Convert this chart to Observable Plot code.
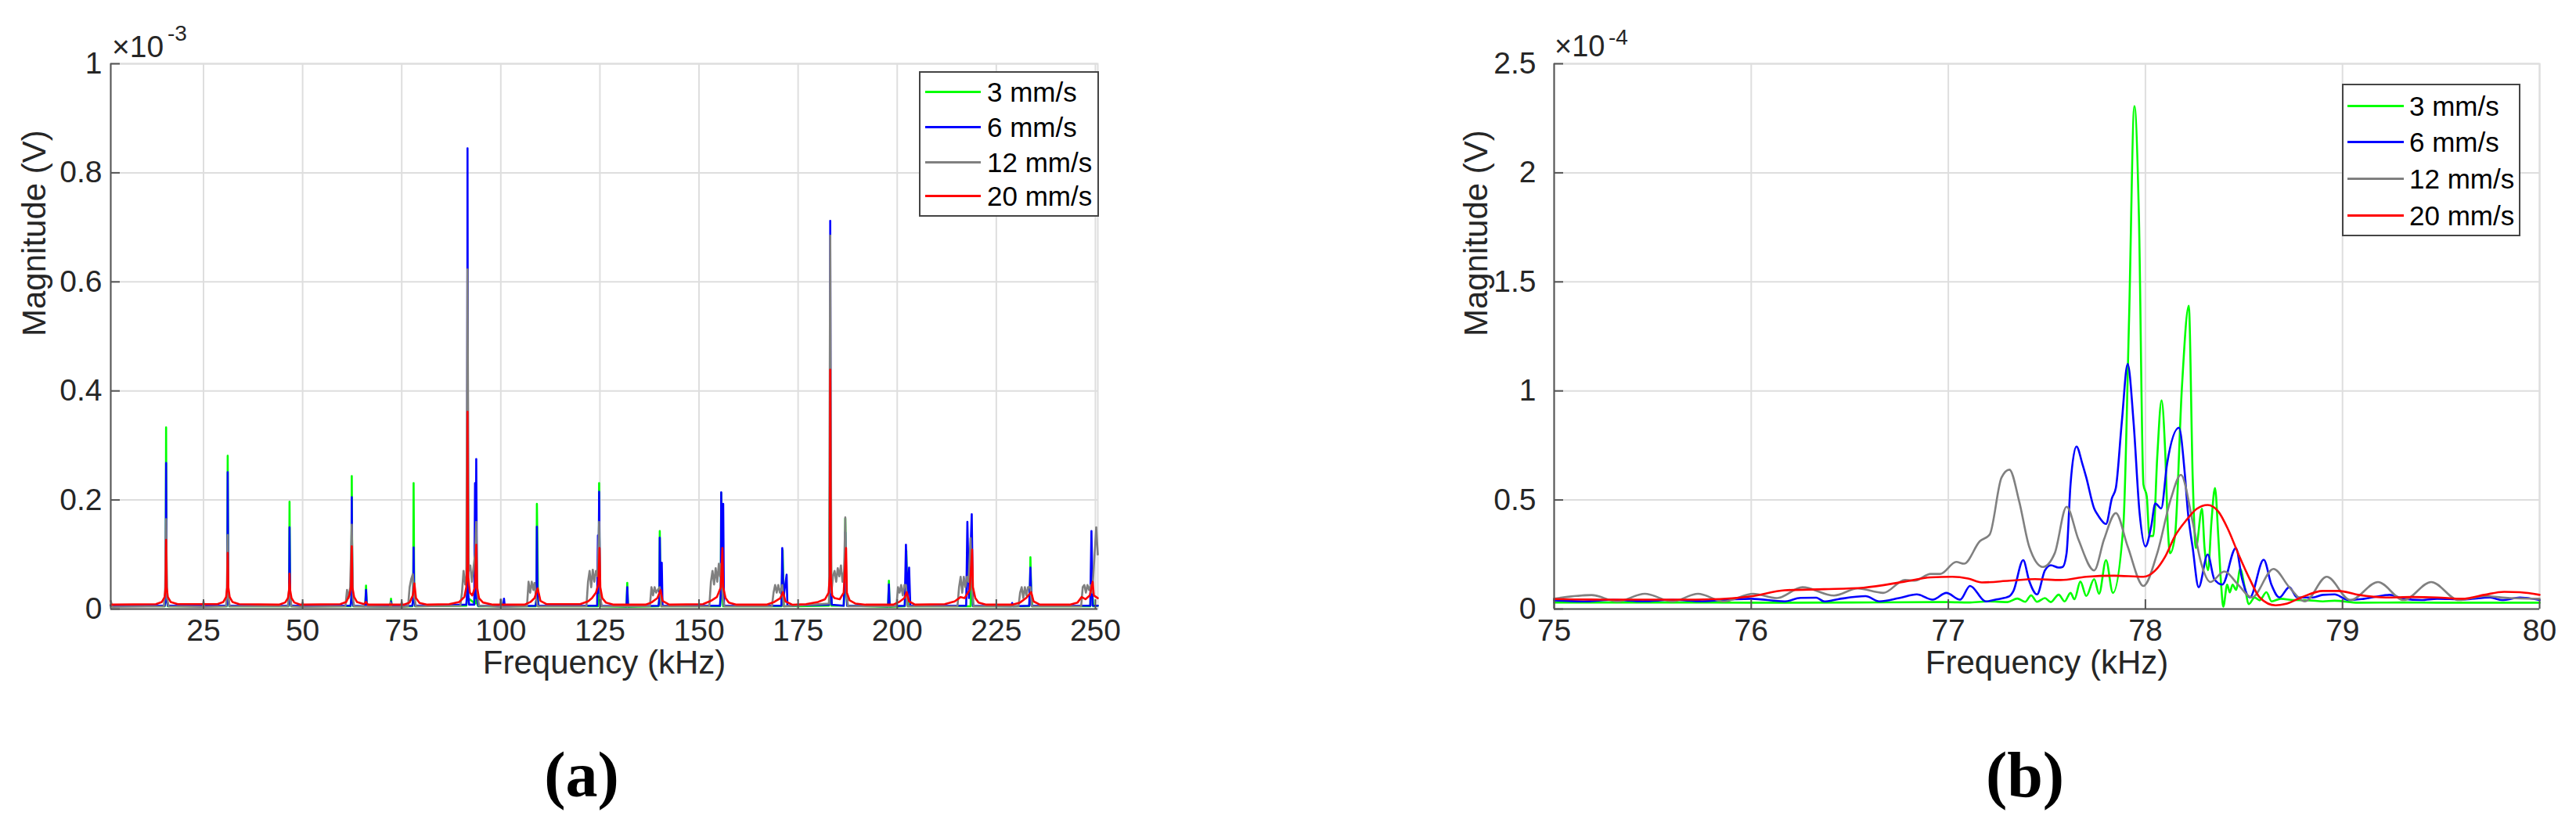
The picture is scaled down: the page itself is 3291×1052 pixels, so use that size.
<!DOCTYPE html>
<html>
<head>
<meta charset="utf-8">
<script src="https://cdn.jsdelivr.net/npm/d3@7"></script>
<script src="https://cdn.jsdelivr.net/npm/@observablehq/plot@0.6"></script>
<style>
  html, body { margin: 0; padding: 0; background: #fff; }
  body { width: 3291px; height: 1052px; position: relative; overflow: hidden; font-family: "Liberation Sans", Arial, sans-serif; }
  .panel { position: absolute; top: 0; }
  .legend { position: absolute; border: 2px solid #444; background: #fff; box-sizing: border-box; }
  .legend .sw { position: absolute; height: 3px; }
  .legend .lt { position: absolute; font-size: 35px; line-height: 35px; color: #000; white-space: nowrap; }
  .exp { position: absolute; color: #262626; line-height: 1; white-space: nowrap; }
  .cap { position: absolute; width: 200px; text-align: center; font-family: "Liberation Serif", "DejaVu Serif", serif; font-weight: bold; font-size: 82px; line-height: 1; color: #000; }
</style>
</head>
<body>
<div id="pa" class="panel" style="left:0px"></div>
<div id="pb" class="panel" style="left:1700px"></div>
<script>
// ---------------- data ----------------
const speedLabels = ["3 mm/s", "6 mm/s", "12 mm/s", "20 mm/s"];
const seriesColors = ["#00ff00", "#0000ff", "#808080", "#ff0000"];

const xTicksA = [25, 50, 75, 100, 125, 150, 175, 200, 225, 250];
const yTicksA = [0, 0.2, 0.4, 0.6, 0.8, 1];          // x 10^-3 V
const xTicksB = [75, 76, 77, 78, 79, 80];
const yTicksB = [0, 0.5, 1, 1.5, 2, 2.5];            // x 10^-4 V
const expA = "-3";
const expB = "-4";

// (a) full spectrum, frequency kHz, magnitude in 1e-3 V
const green3A = [
[1.6,0.006],[15.2,0.005],[15.45,0.02],[15.56,0.333],[15.7,0.02],[16,0.005],
[30.8,0.005],[31.0,0.02],[31.1,0.281],[31.25,0.02],[31.5,0.005],
[46.4,0.005],[46.6,0.02],[46.7,0.197],[46.85,0.02],[47.1,0.005],
[62.1,0.005],[62.3,0.02],[62.4,0.244],[62.55,0.02],[62.8,0.005],
[65.8,0.005],[66.0,0.043],[66.2,0.005],
[72.1,0.004],[72.3,0.019],[72.5,0.004],
[77.7,0.005],[77.9,0.02],[78.0,0.231],[78.15,0.03],[78.4,0.005],
[91.3,0.006],[91.5,0.02],[91.6,0.30],[91.75,0.02],[93.5,0.01],[93.8,0.10],[94.0,0.01],[94.3,0.005],
[108.8,0.005],[109.0,0.02],[109.1,0.193],[109.25,0.113],[109.4,0.005],
[124.5,0.005],[124.7,0.03],[124.8,0.231],[124.95,0.03],[125.2,0.005],
[131.7,0.004],[131.9,0.048],[132.1,0.004],
[139.8,0.005],[140.0,0.02],[140.1,0.143],[140.3,0.02],[140.5,0.005],
[155.3,0.005],[155.5,0.03],[155.6,0.213],[155.8,0.03],[156.1,0.005],
[170.8,0.005],[171.1,0.108],[171.4,0.005],
[182.8,0.006],[183.1,0.30],[183.4,0.006],
[186.5,0.006],[186.8,0.05],[186.9,0.166],[187.1,0.05],[187.4,0.006],
[197.7,0.004],[197.9,0.052],[198.1,0.004],
[201.9,0.005],[202.1,0.03],[202.3,0.107],[202.5,0.03],[202.8,0.005],
[218.5,0.005],[218.8,0.10],[219.1,0.005],
[233.3,0.005],[233.5,0.03],[233.6,0.095],[233.8,0.03],[234.1,0.005],
[248.7,0.005],[248.9,0.03],[249.0,0.104],[249.2,0.03],[249.5,0.005],
[250.6,0.006]];

const blue6A = [
[1.6,0.006],[15.2,0.006],[15.45,0.02],[15.56,0.268],[15.7,0.02],[16,0.006],
[30.8,0.006],[31.0,0.02],[31.1,0.251],[31.25,0.02],[31.5,0.006],
[46.4,0.006],[46.6,0.02],[46.7,0.150],[46.85,0.02],[47.1,0.006],
[62.1,0.006],[62.3,0.02],[62.4,0.205],[62.55,0.02],[62.8,0.006],
[65.8,0.005],[66.0,0.035],[66.2,0.005],
[72.1,0.005],[72.3,0.014],[72.5,0.005],
[77.7,0.006],[77.9,0.02],[78.0,0.113],[78.15,0.02],[78.4,0.006],
[91.3,0.008],[91.5,0.03],[91.6,0.845],[91.75,0.03],[92.0,0.008],
[93.3,0.008],[93.5,0.231],[93.65,0.02],[93.8,0.275],[94.0,0.02],[94.3,0.006],
[100.6,0.005],[100.8,0.019],[101.0,0.005],
[108.8,0.006],[109.0,0.02],[109.1,0.151],[109.25,0.02],[109.5,0.006],
[124.3,0.006],[124.5,0.135],[124.65,0.03],[124.8,0.215],[125.0,0.03],[125.3,0.006],
[131.7,0.005],[131.9,0.040],[132.1,0.005],
[139.8,0.006],[140.0,0.02],[140.1,0.131],[140.3,0.03],[140.6,0.085],[140.8,0.006],
[155.3,0.006],[155.5,0.03],[155.6,0.214],[155.85,0.05],[156.1,0.193],[156.3,0.006],
[170.8,0.006],[171.0,0.112],[171.3,0.02],[172.1,0.063],[172.3,0.006],
[182.8,0.008],[183.0,0.05],[183.1,0.712],[183.25,0.05],[183.5,0.008],
[186.5,0.006],[186.7,0.05],[186.9,0.141],[187.1,0.05],[187.4,0.006],
[197.7,0.005],[197.9,0.045],[198.1,0.005],
[201.9,0.006],[202.2,0.118],[202.6,0.02],[203.0,0.076],[203.3,0.006],
[217.4,0.006],[217.7,0.160],[218.1,0.02],[218.8,0.174],[219.1,0.006],
[228.8,0.005],[229.0,0.011],[229.2,0.005],
[233.3,0.006],[233.6,0.076],[233.9,0.006],
[248.7,0.006],[249.0,0.143],[249.3,0.006],
[250.6,0.006]];

const gray12A = [
[1.6,0.015],[2.0,0.004],[15.0,0.005],[15.3,0.03],[15.56,0.165],[15.8,0.02],[16.2,0.005],
[24.8,0.004],[25.0,0.014],[25.2,0.004],
[30.7,0.005],[30.9,0.04],[31.1,0.136],[31.3,0.02],[31.6,0.005],
[46.3,0.005],[46.5,0.03],[46.7,0.046],[46.9,0.02],[47.2,0.005],
[49.8,0.004],[50.0,0.012],[50.2,0.004],
[60.8,0.005],[61.2,0.035],[61.6,0.02],[62.0,0.04],[62.4,0.155],[62.7,0.02],[63.0,0.005],
[72.0,0.004],[72.2,0.012],[72.4,0.004],
[74.8,0.004],[75.0,0.013],[75.2,0.004],
[76.6,0.005],[77.0,0.04],[77.4,0.055],[77.8,0.064],[78.2,0.02],[78.6,0.005],
[89.8,0.006],[90.2,0.03],[90.6,0.07],[91.0,0.045],[91.3,0.06],[91.6,0.623],[91.9,0.07],[92.3,0.08],[92.7,0.05],[93.1,0.075],[93.5,0.1],[93.8,0.160],[94.1,0.03],[94.5,0.006],
[99.8,0.004],[100.0,0.018],[100.3,0.004],
[106.6,0.005],[107.0,0.05],[107.4,0.03],[107.8,0.05],[108.2,0.035],[108.5,0.048],[108.9,0.02],[109.3,0.005],
[121.6,0.005],[122.0,0.05],[122.4,0.07],[122.8,0.04],[123.2,0.072],[123.6,0.05],[124.0,0.07],[124.4,0.06],[124.8,0.160],[125.1,0.02],[125.5,0.005],
[137.6,0.005],[138.0,0.04],[138.4,0.025],[138.8,0.04],[139.2,0.03],[139.6,0.035],[140.1,0.040],[140.5,0.005],
[152.6,0.005],[153.0,0.05],[153.4,0.07],[153.8,0.045],[154.2,0.075],[154.6,0.05],[155.0,0.083],[155.3,0.06],[155.6,0.083],[156.0,0.02],[156.4,0.005],
[168.4,0.005],[168.8,0.03],[169.2,0.044],[169.6,0.03],[170.0,0.044],[170.4,0.03],[171.0,0.044],[171.4,0.005],
[182.8,0.01],[183.1,0.685],[183.4,0.03],[183.8,0.06],[184.2,0.07],[184.6,0.05],[185.0,0.075],[185.4,0.06],[185.8,0.08],[186.2,0.05],[186.6,0.07],[186.9,0.168],[187.2,0.03],[187.6,0.005],
[199.8,0.005],[200.2,0.04],[200.6,0.03],[201.0,0.044],[201.4,0.025],[201.8,0.044],[202.2,0.044],[202.6,0.005],
[215.2,0.005],[215.6,0.04],[216.0,0.059],[216.4,0.03],[216.8,0.059],[217.2,0.04],[217.6,0.059],[218.0,0.05],[218.5,0.13],[218.9,0.03],[219.3,0.005],
[230.6,0.005],[231.0,0.03],[231.4,0.04],[231.8,0.02],[232.2,0.04],[232.6,0.025],[233.0,0.04],[233.6,0.040],[234.0,0.005],
[246.4,0.005],[246.8,0.04],[247.2,0.044],[247.6,0.03],[248.0,0.044],[248.4,0.035],[248.8,0.044],[249.2,0.03],[249.7,0.09],[250.2,0.150],[250.6,0.10]];

const red20A = [
[1.6,0.008],[13,0.009],[14.5,0.013],[15.2,0.022],[15.45,0.04],[15.56,0.127],[15.7,0.04],[16.0,0.022],[16.7,0.013],[18.5,0.009],
[28.5,0.009],[30.0,0.013],[30.7,0.022],[31.0,0.04],[31.1,0.103],[31.25,0.04],[31.6,0.022],[32.3,0.013],[34,0.009],
[44,0.008],[45.6,0.012],[46.3,0.02],[46.6,0.035],[46.7,0.065],[46.85,0.035],[47.2,0.02],[47.9,0.012],[49.5,0.008],
[59.5,0.009],[61.0,0.013],[61.8,0.025],[62.2,0.04],[62.4,0.115],[62.55,0.04],[63.0,0.022],[63.7,0.013],[65.5,0.009],[66.0,0.013],[66.5,0.008],
[75.5,0.008],[77.0,0.012],[77.8,0.025],[78.2,0.047],[78.6,0.02],[79.5,0.011],[81.5,0.008],
[87,0.009],[89.5,0.013],[90.8,0.022],[91.3,0.04],[91.5,0.08],[91.6,0.362],[91.75,0.06],[92.2,0.03],[92.8,0.025],[93.5,0.04],[93.8,0.118],[94.0,0.04],[94.5,0.02],[95.5,0.012],[98,0.008],
[106,0.008],[107.5,0.013],[108.5,0.02],[109.3,0.038],[110,0.015],[111.5,0.009],
[120,0.009],[122.0,0.014],[123.0,0.02],[124.0,0.03],[124.6,0.045],[124.9,0.112],[125.1,0.04],[125.6,0.02],[126.5,0.012],[128.5,0.008],
[136.5,0.008],[138.0,0.012],[139.5,0.02],[140.3,0.035],[140.8,0.015],[142.5,0.008],
[151,0.009],[153.0,0.015],[154.5,0.022],[155.5,0.04],[155.9,0.112],[156.1,0.04],[156.7,0.02],[157.5,0.012],[159.5,0.008],
[167,0.008],[169.0,0.013],[170.5,0.02],[171.2,0.031],[171.8,0.014],[173.5,0.008],
[177,0.009],[180,0.013],[181.8,0.018],[182.7,0.03],[183.0,0.06],[183.1,0.439],[183.25,0.06],[183.6,0.025],[184.2,0.02],[185.5,0.018],[186.5,0.03],[187.1,0.112],[187.3,0.03],[188,0.016],[189.5,0.01],[192,0.008],
[199,0.008],[200.5,0.013],[201.8,0.02],[202.4,0.031],[203.0,0.014],[204.5,0.008],
[212,0.009],[214.5,0.014],[216.0,0.022],[217.0,0.02],[218.3,0.035],[218.9,0.109],[219.1,0.04],[219.7,0.02],[220.5,0.012],[222.5,0.008],
[229,0.008],[231.0,0.012],[232.5,0.02],[233.8,0.031],[234.4,0.014],[236,0.008],
[243.5,0.008],[245.5,0.012],[246.5,0.022],[247.5,0.018],[248.6,0.025],[249.3,0.050],[249.6,0.025],[250.6,0.02]];

// (b) zoom 75-80 kHz, magnitude in 1e-4 V
const green3B = [
[75.0,0.03],[75.5,0.03],[76.0,0.029],[76.5,0.03],[77.0,0.032],[77.1,0.03],[77.2,0.035],[77.3,0.032],[77.35,0.048],[77.39,0.033],[77.42,0.063],[77.45,0.033],[77.49,0.05],[77.52,0.032],[77.56,0.066],[77.59,0.035],[77.62,0.074],[77.64,0.045],[77.67,0.126],[77.70,0.06],[77.74,0.137],[77.765,0.07],[77.80,0.224],[77.835,0.074],[77.888,0.382],[77.917,1.328],[77.944,2.306],[77.967,1.801],[77.99,0.571],[78.007,0.516],[78.02,0.335],[78.04,0.335],[78.06,0.697],[78.082,0.957],[78.10,0.729],[78.115,0.35],[78.125,0.256],[78.15,0.335],[78.185,1.013],[78.22,1.391],[78.24,0.60],[78.256,0.28],[78.287,0.46],[78.30,0.28],[78.318,0.178],[78.335,0.40],[78.353,0.555],[78.37,0.33],[78.385,0.10],[78.395,0.011],[78.415,0.112],[78.428,0.076],[78.442,0.112],[78.46,0.088],[78.481,0.184],[78.504,0.100],[78.525,0.023],[78.554,0.053],[78.58,0.040],[78.614,0.077],[78.64,0.035],[78.687,0.047],[78.75,0.041],[78.83,0.040],[78.90,0.035],[78.96,0.038],[79.08,0.029],[79.3,0.03],[79.5,0.029],[79.8,0.029],[80.0,0.029]];

const blue6B = [
[75.0,0.040],[75.15,0.035],[75.3,0.042],[75.45,0.036],[75.6,0.042],[75.75,0.036],[75.9,0.044],[76.0,0.047],[76.17,0.035],[76.25,0.051],[76.33,0.052],[76.37,0.035],[76.44,0.045],[76.58,0.059],[76.65,0.035],[76.75,0.05],[76.84,0.067],[76.92,0.043],[76.99,0.074],[77.06,0.043],[77.11,0.106],[77.19,0.035],[77.25,0.045],[77.31,0.059],[77.33,0.082],[77.38,0.224],[77.41,0.130],[77.45,0.067],[77.49,0.177],[77.52,0.201],[77.56,0.19],[77.58,0.193],[77.60,0.256],[77.62,0.571],[77.65,0.745],[77.68,0.666],[77.70,0.603],[77.74,0.461],[77.76,0.429],[77.80,0.390],[77.83,0.508],[77.85,0.555],[77.88,0.855],[77.91,1.123],[77.94,0.855],[77.97,0.445],[78.00,0.287],[78.03,0.382],[78.05,0.484],[78.08,0.461],[78.11,0.666],[78.17,0.831],[78.20,0.619],[78.215,0.45],[78.24,0.28],[78.27,0.100],[78.316,0.250],[78.35,0.136],[78.39,0.112],[78.459,0.280],[78.49,0.14],[78.53,0.053],[78.60,0.226],[78.64,0.11],[78.68,0.053],[78.73,0.100],[78.77,0.053],[78.85,0.053],[78.90,0.065],[78.96,0.067],[79.03,0.041],[79.11,0.047],[79.24,0.065],[79.31,0.047],[79.40,0.041],[79.48,0.047],[79.61,0.044],[79.75,0.053],[79.81,0.041],[79.90,0.053],[80.0,0.041]];

const gray12B = [
[75.0,0.047],[75.19,0.064],[75.32,0.035],[75.46,0.070],[75.60,0.035],[75.73,0.070],[75.86,0.035],[76.01,0.070],[76.13,0.050],[76.26,0.100],[76.42,0.062],[76.54,0.094],[76.67,0.074],[76.78,0.133],[76.83,0.130],[76.91,0.161],[76.96,0.161],[77.04,0.216],[77.08,0.208],[77.16,0.311],[77.21,0.342],[77.27,0.603],[77.31,0.639],[77.36,0.492],[77.41,0.287],[77.48,0.193],[77.54,0.256],[77.60,0.469],[77.66,0.319],[77.74,0.177],[77.79,0.319],[77.85,0.440],[77.91,0.287],[77.99,0.106],[78.06,0.256],[78.13,0.508],[78.18,0.615],[78.24,0.399],[78.28,0.220],[78.33,0.124],[78.40,0.172],[78.47,0.112],[78.54,0.053],[78.65,0.184],[78.73,0.100],[78.81,0.035],[78.92,0.148],[79.04,0.041],[79.18,0.124],[79.31,0.041],[79.45,0.124],[79.59,0.041],[79.72,0.059],[79.85,0.050],[80.0,0.047]];

const red20B = [
[75.0,0.046],[75.3,0.043],[75.6,0.043],[75.84,0.046],[76.0,0.058],[76.17,0.086],[76.37,0.091],[76.57,0.098],[76.78,0.126],[76.91,0.145],[77.02,0.148],[77.1,0.14],[77.17,0.122],[77.31,0.130],[77.44,0.137],[77.57,0.133],[77.70,0.148],[77.84,0.153],[77.99,0.148],[78.05,0.177],[78.10,0.240],[78.15,0.335],[78.21,0.41],[78.26,0.459],[78.316,0.477],[78.37,0.447],[78.42,0.364],[78.47,0.256],[78.53,0.136],[78.58,0.053],[78.66,0.017],[78.71,0.023],[78.79,0.053],[78.90,0.083],[78.98,0.083],[79.08,0.065],[79.22,0.053],[79.35,0.055],[79.48,0.053],[79.61,0.047],[79.72,0.065],[79.82,0.079],[79.90,0.077],[80.0,0.065]];

// ---------------- drawing ----------------
const toRows = (arr, s) => arr.map(([f, v]) => ({f, v, s}));
const fmt = d3.format("~g");
const gridColor = "#dedede";
const axisColor = "#555555";
const textColor = "#262626";

function makePanel(opts) {
  const {width, marginLeft, marginRight, xDomain, yDomain, xTicks, yTicks, series, curve, ylabelDx, labelPad} = opts;
  const lines = series.map((arr, i) =>
    Plot.line(toRows(arr, speedLabels[i]), {x: "f", y: "v", stroke: seriesColors[i], strokeWidth: 2.6, curve}));
  return Plot.plot({
    width, height: 900, marginLeft, marginRight, marginTop: 81, marginBottom: 122,
    style: {fontFamily: "'Liberation Sans', Arial, sans-serif", background: "transparent", overflow: "visible", color: textColor},
    x: {domain: xDomain},
    y: {domain: yDomain},
    marks: [
      Plot.frame({stroke: gridColor, strokeWidth: 2}),
      Plot.gridX(xTicks, {stroke: gridColor, strokeOpacity: 1, strokeWidth: 2}),
      Plot.gridY(yTicks, {stroke: gridColor, strokeOpacity: 1, strokeWidth: 2}),
      ...lines,
      Plot.ruleX([xDomain[0]], {stroke: axisColor, strokeWidth: 2}),
      Plot.ruleY([yDomain[0]], {stroke: axisColor, strokeWidth: 2}),
      Plot.axisX(xTicks, {anchor: "bottom", label: null, tickSize: -12, tickPadding: 25, fontSize: 39, fill: textColor, stroke: axisColor, strokeWidth: 2, tickFormat: fmt}),
      Plot.axisY(yTicks, {anchor: "left", label: null, tickSize: -12, tickPadding: labelPad, fontSize: 39, fill: textColor, stroke: axisColor, strokeWidth: 2, tickFormat: fmt}),
      Plot.text(["Frequency (kHz)"], {frameAnchor: "bottom", dy: 82, fontSize: 42, fill: textColor}),
      Plot.text(["Magnitude (V)"], {frameAnchor: "left", rotate: -90, dx: ylabelDx, fontSize: 42, fill: textColor})
    ]
  });
}

const plotA = makePanel({
  width: 1450, marginLeft: 141, marginRight: 48,
  xDomain: [1.6, 250.6], yDomain: [0, 1], xTicks: xTicksA, yTicks: yTicksA,
  series: [green3A, blue6A, gray12A, red20A], curve: "linear", ylabelDx: -97, labelPad: 23
});
const plotB = makePanel({
  width: 1591, marginLeft: 285, marginRight: 47,
  xDomain: [75, 80], yDomain: [0, 2.5], xTicks: xTicksB, yTicks: yTicksB,
  series: [green3B, blue6B, gray12B, red20B], curve: "monotone-x", ylabelDx: -99, labelPad: 35
});
document.getElementById("pa").appendChild(plotA);
document.getElementById("pb").appendChild(plotB);

// exponent labels, legends, captions
function addEl(cls, style, html) {
  const d = document.createElement("div");
  d.className = cls; d.setAttribute("style", style); d.innerHTML = html;
  document.body.appendChild(d); return d;
}
addEl("exp", "left:143px;top:40px;font-size:39px", "×10");
addEl("exp", "left:214px;top:29px;font-size:28px", expA);
addEl("exp", "left:1986px;top:40px;font-size:38px", "×10");
addEl("exp", "left:2055px;top:34px;font-size:28px", expB);

function legend(left, top, w, h, rowCenters, swX, swW, txtX) {
  const box = addEl("legend", `left:${left}px;top:${top}px;width:${w}px;height:${h}px`, "");
  speedLabels.forEach((lab, i) => {
    const sw = document.createElement("div");
    sw.className = "sw";
    sw.setAttribute("style", `left:${swX}px;top:${rowCenters[i] - 1.5}px;width:${swW}px;background:${seriesColors[i]}`);
    box.appendChild(sw);
    const t = document.createElement("div");
    t.className = "lt";
    t.setAttribute("style", `left:${txtX}px;top:${rowCenters[i] - 17.5}px`);
    t.textContent = lab;
    box.appendChild(t);
  });
}
legend(1174, 91, 230, 186, [24, 69, 114, 157], 6, 71, 85);
legend(2992, 107, 228, 195, [26, 72, 119, 166], 5, 72, 84);

addEl("cap", "left:643px;top:950px", "(a)");
addEl("cap", "left:2487px;top:950px", "(b)");
</script>
</body>
</html>
